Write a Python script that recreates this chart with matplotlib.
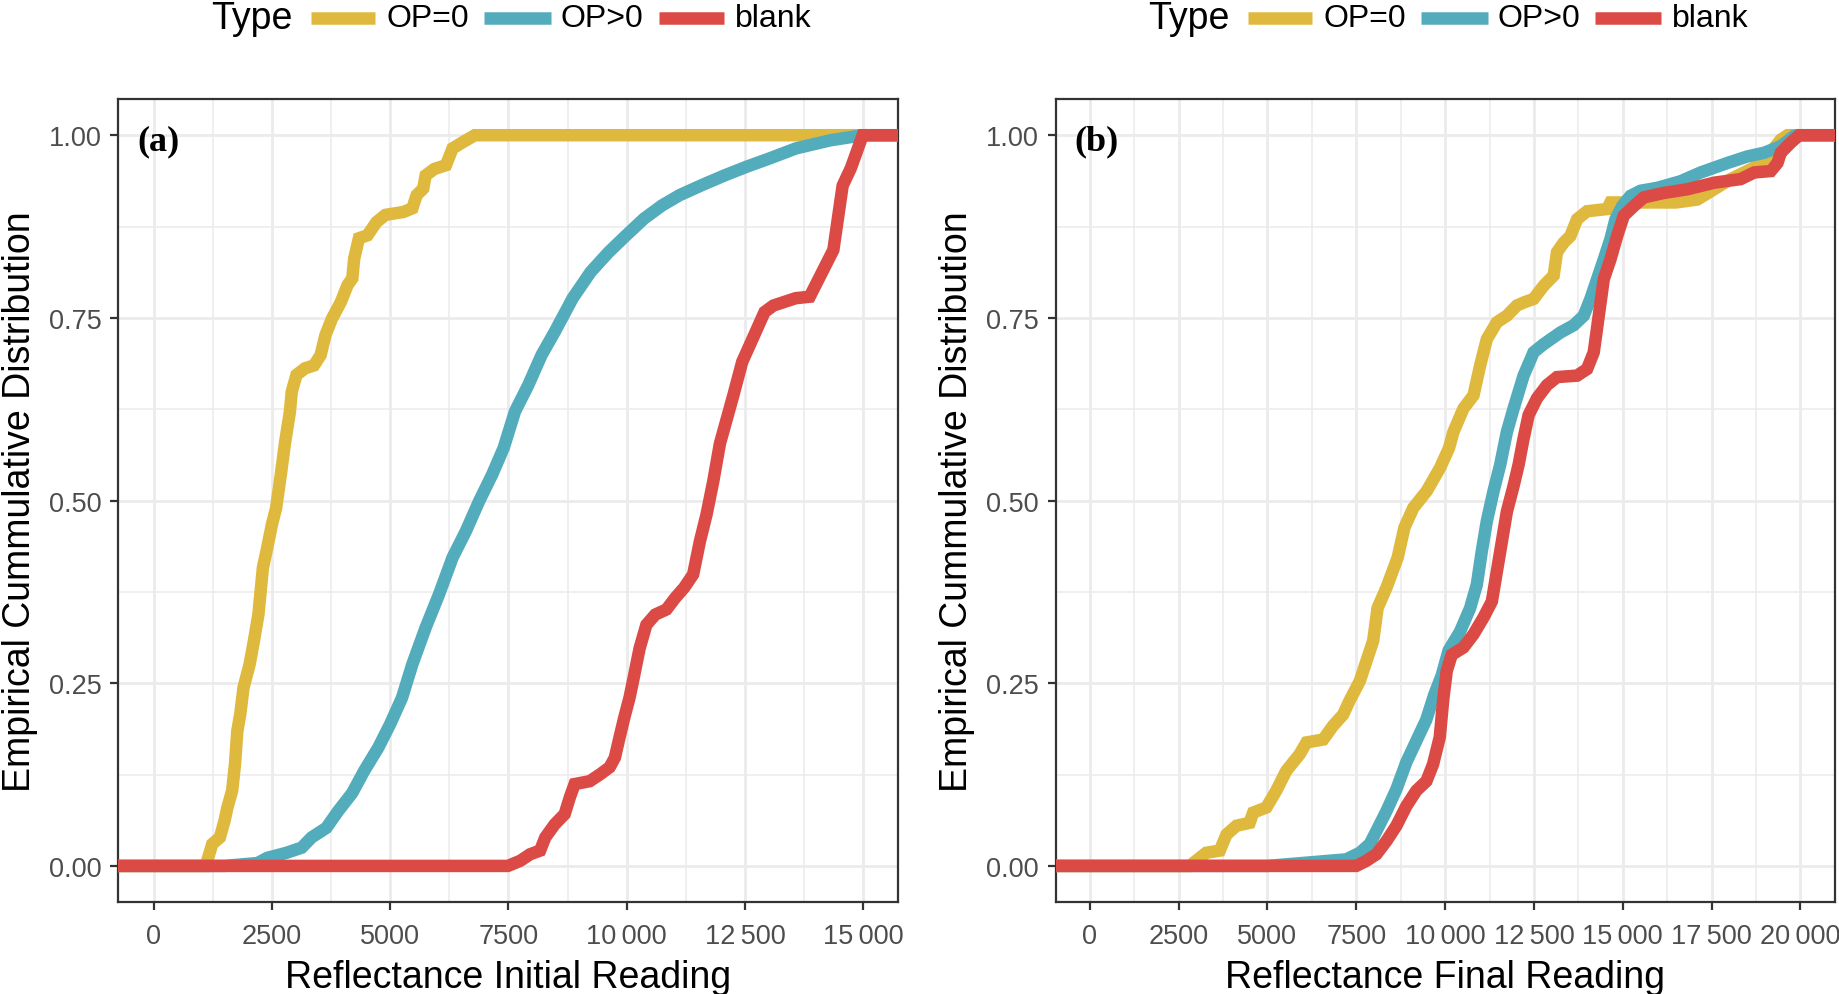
import numpy as np
import matplotlib
matplotlib.use("Agg")
import matplotlib.pyplot as plt
import matplotlib.transforms as mtransforms
from matplotlib.lines import Line2D

plt.rcParams['font.family'] = ['Liberation Sans', 'DejaVu Sans']

# Legend categories and colours
types = ["OP=0", "OP>0", "blank"]
colors = ["#DFB93D", "#52ACBB", "#DB4A45"]

# Panel (a): Reflectance Initial Reading, ECDF points
gold_a_x = [1100, 1240, 1400, 1500, 1560, 1660, 1720, 1770, 1830, 1900, 2030, 2120, 2215,
            2310, 2400, 2500, 2590, 2690, 2780, 2880, 2920, 3020, 3200, 3390, 3530, 3630,
            3770, 3960, 4100, 4200, 4240, 4340, 4520, 4710, 4900, 5280, 5470, 5560, 5700,
            5750, 5940, 6180, 6320, 6550, 6790]
gold_a_y = [0.0, 0.030, 0.039, 0.062, 0.080, 0.103, 0.139, 0.185, 0.207, 0.244, 0.276, 0.308,
            0.344, 0.408, 0.435, 0.467, 0.490, 0.536, 0.580, 0.621, 0.649, 0.672, 0.681,
            0.685, 0.699, 0.726, 0.749, 0.772, 0.795, 0.804, 0.831, 0.859, 0.863, 0.881,
            0.891, 0.895, 0.900, 0.918, 0.927, 0.945, 0.954, 0.959, 0.982, 0.991, 1.0]

teal_a_x = [1500, 2200, 2400, 2810, 3130, 3340, 3650, 3900, 4200, 4450, 4750, 5000, 5250,
            5470, 5750, 6030, 6320, 6600, 6880, 7160, 7400, 7640, 7920, 8200, 8480, 8860,
            9240, 9620, 9990, 10370, 10750, 11120, 11600, 12070, 12540, 13010, 13580,
            14300, 14990]
teal_a_y = [0.0, 0.004, 0.011, 0.018, 0.025, 0.039, 0.052, 0.075, 0.100, 0.130, 0.162, 0.194,
            0.230, 0.276, 0.326, 0.371, 0.422, 0.458, 0.499, 0.536, 0.572, 0.622, 0.658,
            0.699, 0.731, 0.777, 0.813, 0.840, 0.863, 0.886, 0.904, 0.918, 0.932, 0.945,
            0.957, 0.968, 0.982, 0.993, 1.0]

red_a_x = [7490, 7750, 7960, 8170, 8280, 8480, 8690, 8800, 8900, 9220, 9430, 9640, 9750,
           9850, 9950, 10060, 10134, 10275, 10417, 10605, 10841, 11029, 11218, 11406,
           11548, 11689, 11830, 11972, 12255, 12444, 12632, 12915, 13104, 13575, 13870,
           14120, 14370, 14566, 14740, 14990]
red_a_y = [0.0, 0.007, 0.016, 0.021, 0.039, 0.057, 0.071, 0.094, 0.112, 0.116, 0.125, 0.135,
           0.148, 0.176, 0.203, 0.230, 0.253, 0.298, 0.330, 0.344, 0.351, 0.367, 0.381,
           0.399, 0.444, 0.481, 0.526, 0.578, 0.644, 0.690, 0.717, 0.758, 0.767, 0.777,
           0.779, 0.811, 0.843, 0.931, 0.955, 1.0]

# Panel (b): Reflectance Final Reading
gold_b_x = [2810, 3280, 3660, 3850, 4130, 4500, 4600, 4970, 5250, 5530, 5910, 6100, 6570,
            6850, 7130, 7300, 7600, 7976, 8101, 8352, 8666, 8855, 9106, 9483, 9860, 10111,
            10235, 10517, 10799, 10987, 11175, 11457, 11739, 12021, 12209, 12491, 12773,
            13055, 13149, 13337, 13525, 13713, 13995, 14559, 14653, 16500, 17097, 17567,
            18037, 18789, 19071, 19447, 19635]
gold_b_y = [0.0, 0.018, 0.021, 0.043, 0.055, 0.059, 0.073, 0.080, 0.103, 0.130, 0.153, 0.169,
            0.173, 0.192, 0.207, 0.225, 0.253, 0.308, 0.353, 0.381, 0.422, 0.463, 0.490,
            0.513, 0.545, 0.572, 0.594, 0.626, 0.644, 0.685, 0.721, 0.744, 0.753, 0.767,
            0.771, 0.776, 0.794, 0.808, 0.840, 0.853, 0.862, 0.885, 0.896, 0.899, 0.908,
            0.908, 0.912, 0.926, 0.940, 0.958, 0.971, 0.994, 1.0]

teal_b_x = [5000, 7220, 7600, 7880, 8070, 8350, 8630, 8910, 9190, 9470, 9700, 9900, 10100,
            10423, 10705, 10893, 11034, 11175, 11363, 11551, 11739, 11927, 12209, 12491,
            12773, 13243, 13619, 13901, 14089, 14277, 14465, 14653, 14794, 14982, 15217,
            15499, 15969, 16627, 17191, 17943, 18507, 18977, 19447, 19823, 19917]
teal_b_y = [0.0, 0.009, 0.018, 0.030, 0.048, 0.075, 0.105, 0.142, 0.171, 0.200, 0.235, 0.260,
            0.295, 0.321, 0.353, 0.385, 0.431, 0.472, 0.513, 0.549, 0.594, 0.626, 0.671,
            0.703, 0.714, 0.730, 0.740, 0.753, 0.776, 0.803, 0.830, 0.858, 0.885, 0.903,
            0.917, 0.924, 0.928, 0.937, 0.949, 0.962, 0.971, 0.976, 0.985, 0.999, 1.0]

red_b_x = [7500, 7785, 8067, 8348, 8630, 8911, 9192, 9474, 9661, 9849, 9953, 10047, 10188,
           10517, 10799, 11081, 11316, 11457, 11598, 11739, 11927, 12068, 12209, 12350,
           12585, 12867, 13149, 13713, 13995, 14183, 14324, 14465, 14653, 14841, 15029,
           15311, 15593, 16157, 16815, 17567, 18319, 18695, 19165, 19353, 19447, 19729,
           19964]
red_b_y = [0.0, 0.007, 0.016, 0.034, 0.055, 0.082, 0.103, 0.116, 0.139, 0.176, 0.230, 0.267,
           0.289, 0.299, 0.317, 0.340, 0.362, 0.403, 0.444, 0.485, 0.520, 0.549, 0.585,
           0.617, 0.640, 0.658, 0.669, 0.671, 0.680, 0.703, 0.753, 0.803, 0.830, 0.862,
           0.890, 0.903, 0.915, 0.921, 0.926, 0.935, 0.940, 0.949, 0.951, 0.962, 0.976,
           0.990, 1.0]

yticks = [0.0, 0.25, 0.5, 0.75, 1.0]
yticklabels = ["0.00", "0.25", "0.50", "0.75", "1.00"]
xticks_a = [0, 2500, 5000, 7500, 10000, 12500, 15000]
xticklabels_a = ["0", "2500", "5000", "7500", "10\u2009000", "12\u2009500", "15\u2009000"]
xticks_b = [0, 2500, 5000, 7500, 10000, 12500, 15000, 17500, 20000]
xticklabels_b = ["0", "2500", "5000", "7500", "10\u2009000", "12\u2009500", "15\u2009000",
                 "17\u2009500", "20\u2009000"]

fig = plt.figure(figsize=(18.39, 9.95), dpi=100)
ax_a = fig.add_axes([0.0644, 0.092, 0.4241, 0.8078])
ax_b = fig.add_axes([0.5740, 0.092, 0.4236, 0.8078])

panels = [
    (ax_a, [(gold_a_x, gold_a_y), (teal_a_x, teal_a_y), (red_a_x, red_a_y)],
     (-744, 15744), xticks_a, xticklabels_a, "Reflectance Initial Reading", "(a)"),
    (ax_b, [(gold_b_x, gold_b_y), (teal_b_x, teal_b_y), (red_b_x, red_b_y)],
     (-960, 20960), xticks_b, xticklabels_b, "Reflectance Final Reading", "(b)"),
]

lw = 9.0

for ax, series, xlim, xt, xtl, xlabel, tag in panels:
    # ecdf lines, padded to -Inf / Inf like stat_ecdf
    for (xs, ys), col in zip(series, colors):
        xx = np.concatenate([[-1e6], xs, [1e6]])
        yy = np.concatenate([[0.0], ys, [1.0]])
        ax.plot(xx, yy, color=col, lw=lw, solid_capstyle='butt', solid_joinstyle='miter',
                zorder=3)

    ax.set_xlim(xlim)
    ax.set_ylim(-0.05, 1.05)
    ax.set_xticks(xt)
    ax.set_xticklabels(xtl)
    ax.set_yticks(yticks)
    ax.set_yticklabels(yticklabels)
    minor_x = [t + 1250 for t in xt[:-1]]
    ax.set_xticks(minor_x, minor=True)
    ax.set_yticks([0.125, 0.375, 0.625, 0.875], minor=True)

    ax.grid(which='major', color='#EBEBEB', lw=2.0, zorder=0)
    ax.grid(which='minor', color='#EBEBEB', lw=1.1, zorder=0)
    ax.set_axisbelow(True)
    ax.tick_params(which='minor', length=0)
    ax.tick_params(which='major', length=6, width=1.6, color='#333333',
                   labelsize=19.5, labelcolor='#4D4D4D', pad=6)
    ax.tick_params(axis='x', pad=9)
    for sp in ax.spines.values():
        sp.set_color('#333333')
        sp.set_linewidth(1.6)

    ax.set_xlabel(xlabel, fontsize=27, labelpad=7)
    ax.set_ylabel("Empirical Cummulative Distribution", fontsize=27, labelpad=8)

    trans = mtransforms.blended_transform_factory(ax.transAxes, ax.transData)
    ax.text(0.024, 0.992, tag, transform=trans, fontsize=26, fontweight='bold',
            family='Liberation Serif', ha='left', va='center', zorder=5)

    # legend drawn across the top of each panel
    ly = 1.100
    ax.text(0.119, ly, "Type", transform=ax.transAxes, fontsize=27, ha='left', va='center')
    key_x = [(0.247, 0.329), (0.469, 0.555), (0.693, 0.777)]
    text_x = [0.344, 0.567, 0.791]
    for (k0, k1), tx, col, lab in zip(key_x, text_x, colors, types):
        ax.add_line(Line2D([k0, k1], [ly, ly], transform=ax.transAxes, color=col, lw=lw,
                           solid_capstyle='butt', clip_on=False))
        ax.text(tx, ly, lab, transform=ax.transAxes, fontsize=23, ha='left', va='center')

fig.savefig("out.png", dpi=100)
